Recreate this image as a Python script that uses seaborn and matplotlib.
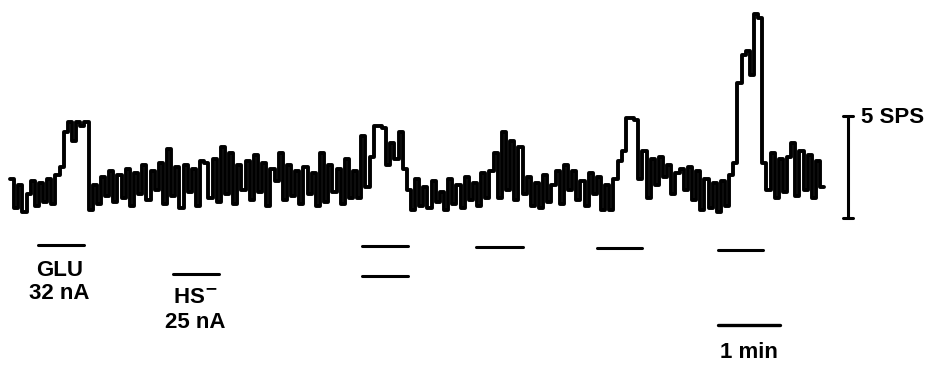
import numpy as np
import matplotlib
matplotlib.use("Agg")
import matplotlib.pyplot as plt
import seaborn as sns

# firing rate (spikes/s) in consecutive 4 s bins
bin_s = 4
rate = (
    [1.9, 0.5, 1.6, 0.3, 1.2, 1.8, 0.6, 1.7, 0.8, 1.9, 0.7, 2.1, 2.5]
    + [4.2, 4.7, 3.8, 4.7, 4.5, 4.7]
    + [0.4, 1.6, 0.7, 2.0, 1.1, 2.3, 0.8, 2.1, 1.0, 2.4, 0.6, 2.2]
    + [1.2, 2.6, 0.9, 2.3, 1.4, 2.7, 0.7, 3.4, 1.1, 2.5, 0.5, 2.6, 1.3, 2.4]
    + [0.6, 2.8, 2.7, 1.0, 2.9, 0.8, 3.5, 1.2, 3.2, 0.7, 2.6, 1.4, 2.8, 0.9]
    + [3.1, 1.3, 2.7, 0.6, 2.4, 1.8, 3.2, 0.9, 2.6, 1.1, 2.3, 0.7, 2.5, 1.2]
    + [2.2, 0.6, 3.2, 0.8, 2.6, 1.3, 2.4, 0.7, 2.9, 1.0, 2.3, 1.0, 4.0]
    + [1.5, 3.0, 4.5, 4.5, 4.4, 2.6, 3.7, 2.9, 4.2, 2.4]
    + [1.4, 0.4, 1.9, 0.6, 1.5, 0.5, 1.8, 0.8, 1.3, 0.4, 1.9, 0.7, 1.6, 0.5, 2.0, 0.9, 1.7, 0.6, 2.2, 1.0]
    + [2.3, 3.2, 1.0, 4.2, 1.4, 3.8, 0.9, 3.5, 1.2]
    + [2.0, 0.6, 1.7, 0.5, 2.1, 0.8, 1.6, 2.3, 0.7, 2.6, 1.4, 2.3, 0.9, 1.8, 0.6, 2.2, 1.2, 2.0, 0.4, 1.6, 0.4, 1.9]
    + [2.8, 3.3, 4.9, 4.9, 4.8]
    + [1.9]
    + [3.3, 1.0, 2.9, 1.6, 3.0, 2.0, 2.6, 1.2, 2.2, 2.4, 1.4, 2.5, 0.9, 2.3]
    + [0.4, 1.9, 0.5, 1.7, 0.3, 1.8, 0.6, 2.1]
    + [2.7, 6.6, 8.0, 8.2, 7.0, 10.0, 9.8, 2.7]
    + [1.4, 3.2, 1.0, 2.9, 1.3, 3.0, 3.7, 1.1, 3.3, 1.4, 3.1, 1.0, 2.8, 1.5]
)

# drug application bars: onset (s), duration (s), row level (SPS units below trace)
drug_onset = [27, 158, 341, 341, 451, 568, 685]
drug_dur = [45, 44, 44, 44, 45, 44, 44]
drug_row = [-1.32, -2.75, -1.37, -2.84, -1.42, -1.47, -1.57]

time_bar = (685, 60, -5.25)      # onset, length (1 min), level
sps_bar = (811, 0, 5)            # x, bottom, top (5 SPS)

t = np.arange(len(rate) + 1) * bin_s
y = np.array(rate + [rate[-1]])

sns.set_style("white")
plt.rcParams['font.family'] = ['Liberation Sans', 'DejaVu Sans']
plt.rcParams['text.color'] = 'black'

fig = plt.figure(figsize=(9.37, 3.77), dpi=100)
ax = fig.add_axes([0, 0, 1, 1])

sns.lineplot(x=t, y=y, drawstyle="steps-post", color="black", lw=2.8, ax=ax)

for on, d, r in zip(drug_onset, drug_dur, drug_row):
    ax.plot([on, on + d], [r, r], color="black", lw=2.2, solid_capstyle="round")

ax.plot([time_bar[0], time_bar[0] + time_bar[1]], [time_bar[2]] * 2, color="black", lw=2.4)
ax.text(time_bar[0] + time_bar[1] / 2, -6.6, "1 min", ha="center", va="center",
        fontsize=16, fontweight="bold")

# vertical scale bar
x0, y0, y1 = sps_bar
ax.plot([x0, x0], [y0, y1], color="black", lw=2.2)
ax.plot([x0 - 5, x0 + 5], [y0, y0], color="black", lw=2.2)
ax.plot([x0 - 5, x0 + 5], [y1, y1], color="black", lw=2.2)
ax.text(x0 + 13, y1 - 0.05, "5 SPS", ha="left", va="center", fontsize=16, fontweight="bold")

# drug labels
ax.text(48, -2.55, "GLU", ha="center", va="center", fontsize=16, fontweight="bold")
ax.text(48, -3.68, "32 nA", ha="center", va="center", fontsize=16, fontweight="bold")
ax.text(179, -3.87, "HS$^{\\mathbf{-}}$", ha="center", va="center", fontsize=16, fontweight="bold")
ax.text(179, -5.1, "25 nA", ha="center", va="center", fontsize=16, fontweight="bold")

ax.set_xlim(-9.7, 897.1)
ax.set_ylim(-7.79, 10.69)
ax.axis("off")

fig.savefig("out.png", dpi=100)
